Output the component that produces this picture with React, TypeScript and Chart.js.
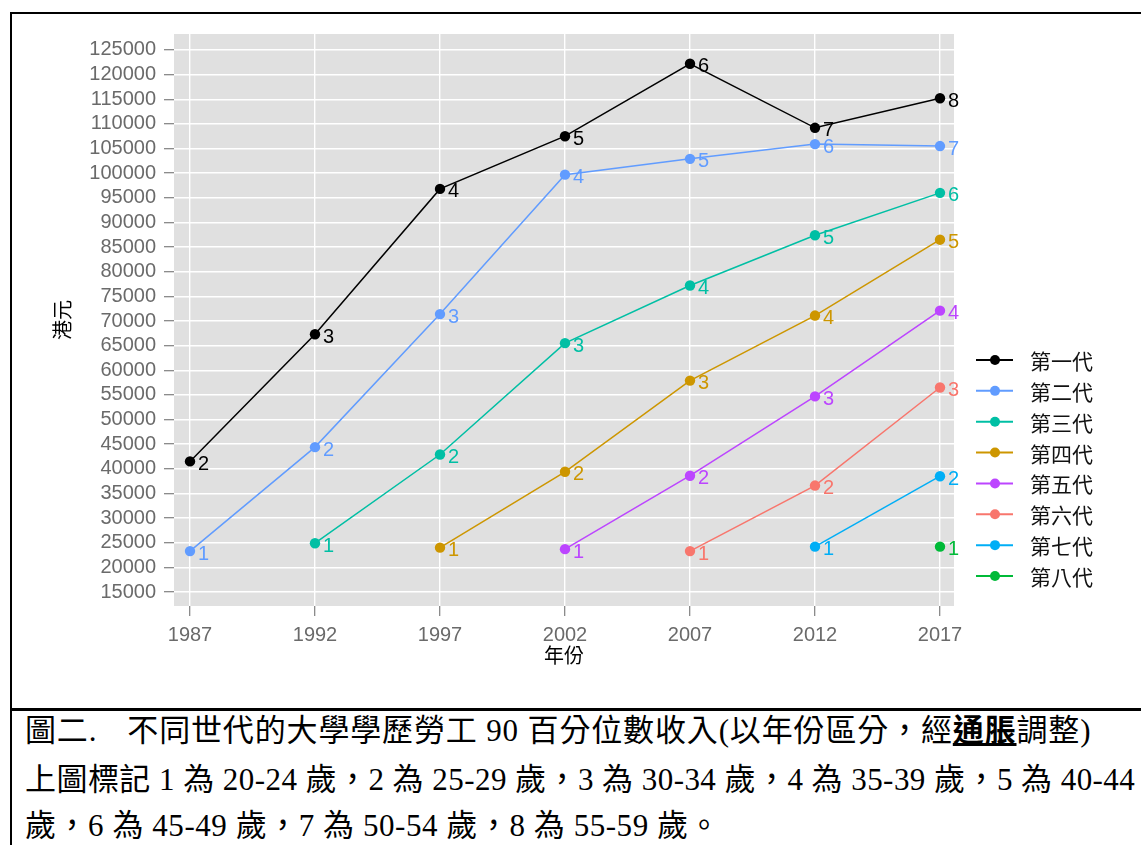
import React, { useEffect, useRef } from "react";
import { Chart, registerables } from "chart.js";

Chart.register(...registerables);

// ---------- data ----------
const years = [1987, 1992, 1997, 2002, 2007, 2012, 2017];
const generationNames = ["第一代", "第二代", "第三代", "第四代", "第五代", "第六代", "第七代", "第八代"];
const seriesColors = ["#000000", "#619CFF", "#00BFA4", "#CD9600", "#BC45FF", "#F8766D", "#00AEF6", "#00BA38"];

const gen1 = [41500, 67300, 96800, 107500, 122200, 109200, 115200];
const gen2 = [23300, 44400, 71400, 99700, 102900, 105900, 105500];
const gen3 = [null, 24900, 42900, 65500, 77200, 87400, 96000];
const gen4 = [null, null, 24000, 39400, 57900, 71100, 86500];
const gen5 = [null, null, null, 23700, 38600, 54700, 72100];
const gen6 = [null, null, null, null, 23300, 36600, 56500];
const gen7 = [null, null, null, null, null, 24200, 38500];
const gen8 = [null, null, null, null, null, null, 24200];

const gen1Ages = ["2", "3", "4", "5", "6", "7", "8"];
const gen2Ages = ["1", "2", "3", "4", "5", "6", "7"];
const gen3Ages = [null, "1", "2", "3", "4", "5", "6"];
const gen4Ages = [null, null, "1", "2", "3", "4", "5"];
const gen5Ages = [null, null, null, "1", "2", "3", "4"];
const gen6Ages = [null, null, null, null, "1", "2", "3"];
const gen7Ages = [null, null, null, null, null, "1", "2"];
const gen8Ages = [null, null, null, null, null, null, "1"];

const seriesValues = [gen1, gen2, gen3, gen4, gen5, gen6, gen7, gen8];
const seriesAges = [gen1Ages, gen2Ages, gen3Ages, gen4Ages, gen5Ages, gen6Ages, gen7Ages, gen8Ages];

const yTicks = [15000, 20000, 25000, 30000, 35000, 40000, 45000, 50000, 55000, 60000, 65000, 70000,
  75000, 80000, 85000, 90000, 95000, 100000, 105000, 110000, 115000, 120000, 125000];
const xTicks = [1987, 1992, 1997, 2002, 2007, 2012, 2017];
const yMin = 12160;
const yMax = 128240;
const xMin = 1986.36;
const xMax = 2017.56;

const xTitle = "年份";
const yTitle = "港元";

const captionLine1a = "圖二.";
const captionLine1b = "不同世代的大學學歷勞工 90 百分位數收入(以年份區分，經";
const captionLine1c = "通脹";
const captionLine1d = "調整)";
const captionLine2 = "上圖標記 1 為 20-24 歲，2 為 25-29 歲，3 為 30-34 歲，4 為 35-39 歲，5 為 40-44";
const captionLine3 = "歲，6 為 45-49 歲，7 為 50-54 歲，8 為 55-59 歲。";

// ---------- layout constants ----------
const CANVAS_W = 1129;
const CANVAS_H = 694;
const Y_AXIS_W = 162;
const X_AXIS_H = 102;
const PAD_TOP = 19;
const PAD_RIGHT = 187;

const tickFont = { family: '"Liberation Sans", Arial, sans-serif', size: 20 };
const tickColor = "#6A6A6A";
const cjkFont = '"Noto Sans CJK TC", "Noto Sans CJK SC", sans-serif';

const panelPlugin = {
  id: "panelBg",
  beforeDraw(chart: any) {
    const { ctx, chartArea } = chart;
    ctx.save();
    ctx.fillStyle = "#E0E0E0";
    ctx.fillRect(chartArea.left, chartArea.top, chartArea.right - chartArea.left, chartArea.bottom - chartArea.top);
    ctx.restore();
  },
};

const pointLabelPlugin = {
  id: "pointLabels",
  afterDatasetsDraw(chart: any) {
    const ctx = chart.ctx;
    ctx.save();
    ctx.font = '20px "Liberation Sans", Arial, sans-serif';
    ctx.textAlign = "left";
    ctx.textBaseline = "middle";
    chart.data.datasets.forEach((ds: any, i: number) => {
      const meta = chart.getDatasetMeta(i);
      meta.data.forEach((el: any, j: number) => {
        const raw = ds.data[j];
        if (!raw || raw.age == null) return;
        ctx.fillStyle = ds.borderColor;
        ctx.fillText(raw.age, el.x + 8, el.y + 3);
      });
    });
    ctx.restore();
  },
};

const decorPlugin = {
  id: "decor",
  afterDraw(chart: any) {
    const { ctx, chartArea } = chart;
    ctx.save();
    ctx.fillStyle = "#000";
    ctx.font = `20px ${cjkFont}`;
    ctx.textAlign = "center";
    ctx.textBaseline = "middle";
    ctx.fillText(xTitle, (chartArea.left + chartArea.right) / 2, chartArea.bottom + 49);
    ctx.save();
    ctx.translate(chartArea.left - 112, (chartArea.top + chartArea.bottom) / 2);
    ctx.rotate(-Math.PI / 2);
    ctx.fillText(yTitle, 0, 0);
    ctx.restore();

    // legend
    const x0 = chartArea.right + 22;
    const x1 = chartArea.right + 59;
    const xd = chartArea.right + 41;
    const xt = chartArea.right + 76;
    const y0 = chartArea.top + 326;
    const dy = 30.86;
    chart.data.datasets.forEach((ds: any, i: number) => {
      const y = y0 + i * dy;
      ctx.strokeStyle = ds.borderColor;
      ctx.lineWidth = 2;
      ctx.beginPath();
      ctx.moveTo(x0, y);
      ctx.lineTo(x1, y);
      ctx.stroke();
      ctx.fillStyle = ds.borderColor;
      ctx.beginPath();
      ctx.arc(xd, y, 5, 0, Math.PI * 2);
      ctx.fill();
      ctx.fillStyle = "#111";
      ctx.font = `21px ${cjkFont}`;
      ctx.textAlign = "left";
      ctx.textBaseline = "middle";
      ctx.fillText(ds.label, xt, y + 1);
    });
    ctx.restore();
  },
};

function ChartCanvas() {
  const ref = useRef<HTMLCanvasElement | null>(null);
  useEffect(() => {
    if (!ref.current) return;
    const datasets = seriesValues.map((vals, i) => ({
      label: generationNames[i],
      data: years
        .map((x, j) => ({ x, y: vals[j], age: seriesAges[i][j] }))
        .filter((p) => p.y != null),
      borderColor: seriesColors[i],
      backgroundColor: seriesColors[i],
      pointBackgroundColor: seriesColors[i],
      pointBorderWidth: 0,
      pointRadius: 5.2,
      borderWidth: 1.5,
      tension: 0,
      fill: false,
    }));
    const chart = new Chart(ref.current, {
      type: "line",
      data: { datasets: datasets as any },
      options: {
        animation: false,
        responsive: false,
        maintainAspectRatio: false,
        layout: { padding: { top: PAD_TOP, right: PAD_RIGHT, left: 0, bottom: 0 } },
        plugins: { legend: { display: false }, tooltip: { enabled: false } },
        scales: {
          x: {
            type: "linear",
            min: xMin,
            max: xMax,
            afterBuildTicks: (axis: any) => {
              axis.ticks = xTicks.map((v) => ({ value: v }));
            },
            afterFit: (axis: any) => {
              axis.height = X_AXIS_H;
            },
            ticks: {
              callback: (v: any) => String(v),
              font: tickFont,
              color: tickColor,
              padding: 7,
              maxRotation: 0,
              autoSkip: false,
            },
            grid: {
              color: "#FFFFFF",
              lineWidth: 1.4,
              tickColor: "#7F7F7F",
              tickLength: 10,
              tickWidth: 1.2,
            },
            border: { display: false },
          },
          y: {
            type: "linear",
            min: yMin,
            max: yMax,
            afterBuildTicks: (axis: any) => {
              axis.ticks = yTicks.map((v) => ({ value: v }));
            },
            afterFit: (axis: any) => {
              axis.width = Y_AXIS_W;
            },
            ticks: {
              callback: (v: any) => String(v),
              font: tickFont,
              color: tickColor,
              padding: 8,
              autoSkip: false,
            },
            grid: {
              color: "#FFFFFF",
              lineWidth: 1.4,
              tickColor: "#7F7F7F",
              tickLength: 10,
              tickWidth: 1.2,
            },
            border: { display: false },
          },
        },
      },
      plugins: [panelPlugin, pointLabelPlugin, decorPlugin],
    });
    return () => chart.destroy();
  }, []);
  return (
    <canvas
      ref={ref}
      width={CANVAS_W}
      height={CANVAS_H}
      style={{ position: "absolute", left: 12, top: 14, width: CANVAS_W, height: CANVAS_H }}
    />
  );
}

export default function App() {
  const captionFont = '"Liberation Serif", "Noto Sans CJK TC", serif';
  const lineStyle: React.CSSProperties = {
    position: "absolute",
    left: 25,
    whiteSpace: "nowrap",
    fontFamily: captionFont,
    fontSize: 31,
    height: 40,
    lineHeight: "40px",
    color: "#000",
  };
  return (
    <div style={{ position: "absolute", left: 0, top: 0, width: 1141, height: 845, overflow: "hidden", background: "#fff" }}>
      <div
        style={{
          position: "absolute",
          left: 10,
          top: 12,
          width: 1300,
          height: 1000,
          borderTop: "2px solid #000",
          borderLeft: "2px solid #000",
        }}
      />
      <div style={{ position: "absolute", left: 10, top: 708, width: 1300, height: 0, borderTop: "3px solid #000" }} />
      <ChartCanvas />
      <div style={{ ...lineStyle, top: 711, letterSpacing: 0.85 }}>
        <span>{captionLine1a}</span>
        <span style={{ marginLeft: 30 }}>{captionLine1b}</span>
        <span style={{ fontWeight: "bold", textDecoration: "underline" }}>{captionLine1c}</span>
        <span>{captionLine1d}</span>
      </div>
      <div style={{ ...lineStyle, top: 760, letterSpacing: 0.45 }}>{captionLine2}</div>
      <div style={{ ...lineStyle, top: 806, letterSpacing: 0.55 }}>{captionLine3}</div>
    </div>
  );
}
